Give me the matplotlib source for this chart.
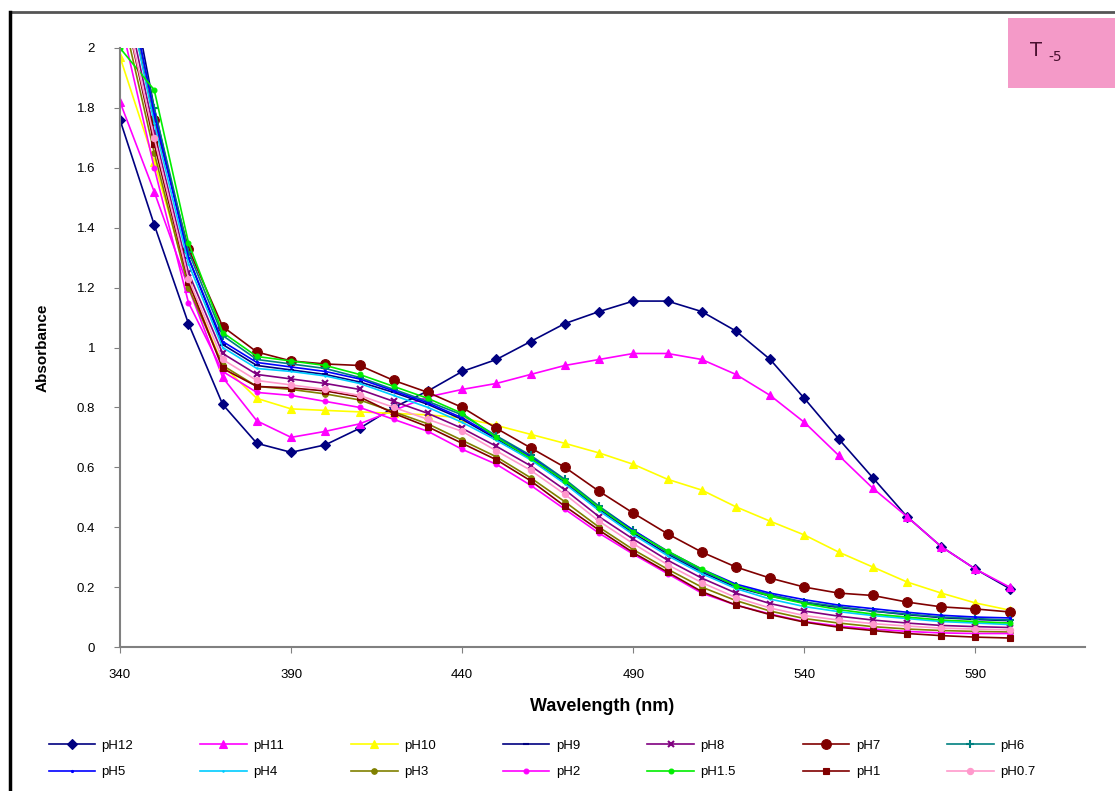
import matplotlib
matplotlib.use('Agg')
import matplotlib.pyplot as plt
from matplotlib.patches import Rectangle
from matplotlib.lines import Line2D
import numpy as np

plt.rcParams['font.family'] = ['Liberation Sans', 'DejaVu Sans']

# ===== Data =====
wavelength = list(range(340, 601, 10))

labels = ['pH12', 'pH11', 'pH10', 'pH9', 'pH8', 'pH7', 'pH6',
          'pH5', 'pH4', 'pH3', 'pH2', 'pH1.5', 'pH1', 'pH0.7']

ph12 = [1.76, 1.41, 1.08, 0.81, 0.68, 0.65, 0.675, 0.73, 0.80, 0.855, 0.92, 0.96, 1.02, 1.08,
        1.12, 1.155, 1.155, 1.12, 1.055, 0.96, 0.83, 0.695, 0.565, 0.435, 0.335, 0.26, 0.195]
ph11 = [1.82, 1.52, 1.20, 0.90, 0.755, 0.70, 0.72, 0.745, 0.79, 0.835, 0.86, 0.88, 0.91, 0.94,
        0.96, 0.98, 0.98, 0.96, 0.91, 0.84, 0.75, 0.64, 0.53, 0.435, 0.335, 0.26, 0.20]
ph10 = [1.97, 1.62, 1.22, 0.94, 0.83, 0.795, 0.79, 0.785, 0.78, 0.775, 0.765, 0.74, 0.71, 0.68,
        0.648, 0.61, 0.56, 0.524, 0.468, 0.42, 0.374, 0.317, 0.267, 0.217, 0.18, 0.147, 0.123]
ph9 = [2.40, 1.80, 1.30, 1.01, 0.94, 0.925, 0.91, 0.885, 0.85, 0.81, 0.76, 0.695, 0.63, 0.55,
       0.46, 0.38, 0.31, 0.25, 0.20, 0.17, 0.148, 0.132, 0.12, 0.108, 0.098, 0.092, 0.088]
ph8 = [2.25, 1.72, 1.25, 0.98, 0.91, 0.895, 0.88, 0.86, 0.82, 0.78, 0.73, 0.67, 0.605, 0.525,
       0.435, 0.36, 0.29, 0.23, 0.18, 0.145, 0.12, 0.103, 0.09, 0.08, 0.072, 0.068, 0.065]
ph7 = [2.30, 1.76, 1.33, 1.07, 0.985, 0.955, 0.945, 0.94, 0.89, 0.85, 0.80, 0.73, 0.665, 0.60,
       0.52, 0.447, 0.378, 0.317, 0.267, 0.23, 0.20, 0.18, 0.172, 0.15, 0.134, 0.127, 0.117]
ph6 = [2.30, 1.80, 1.32, 1.04, 0.96, 0.945, 0.93, 0.90, 0.86, 0.82, 0.775, 0.705, 0.64, 0.56,
       0.47, 0.39, 0.315, 0.255, 0.205, 0.175, 0.15, 0.135, 0.12, 0.11, 0.10, 0.095, 0.09]
ph5 = [2.35, 1.78, 1.30, 1.02, 0.95, 0.935, 0.92, 0.895, 0.855, 0.815, 0.765, 0.70, 0.635, 0.555,
       0.465, 0.39, 0.32, 0.26, 0.21, 0.18, 0.158, 0.14, 0.128, 0.116, 0.106, 0.10, 0.097]
ph4 = [2.30, 1.75, 1.28, 1.00, 0.93, 0.92, 0.905, 0.88, 0.84, 0.80, 0.75, 0.69, 0.625, 0.545,
       0.455, 0.375, 0.305, 0.245, 0.195, 0.16, 0.135, 0.118, 0.105, 0.095, 0.085, 0.08, 0.075]
ph3 = [2.15, 1.65, 1.20, 0.94, 0.87, 0.86, 0.845, 0.825, 0.785, 0.745, 0.69, 0.635, 0.565, 0.485,
       0.40, 0.325, 0.26, 0.20, 0.155, 0.12, 0.095, 0.08, 0.068, 0.06, 0.055, 0.052, 0.05]
ph2 = [2.10, 1.60, 1.15, 0.92, 0.85, 0.84, 0.82, 0.80, 0.76, 0.72, 0.66, 0.61, 0.54, 0.46,
       0.38, 0.31, 0.245, 0.18, 0.14, 0.11, 0.085, 0.07, 0.06, 0.052, 0.047, 0.045, 0.045]
ph1_5 = [2.00, 1.86, 1.35, 1.05, 0.97, 0.955, 0.94, 0.91, 0.87, 0.83, 0.78, 0.70, 0.63, 0.555,
         0.465, 0.385, 0.32, 0.26, 0.205, 0.17, 0.145, 0.125, 0.11, 0.10, 0.09, 0.085, 0.08]
ph1 = [2.20, 1.68, 1.22, 0.93, 0.87, 0.865, 0.855, 0.835, 0.78, 0.735, 0.68, 0.625, 0.555, 0.47,
       0.39, 0.315, 0.25, 0.185, 0.14, 0.108, 0.083, 0.066, 0.055, 0.045, 0.038, 0.033, 0.03]
ph0_7 = [2.20, 1.70, 1.23, 0.96, 0.89, 0.875, 0.86, 0.84, 0.80, 0.76, 0.72, 0.655, 0.59, 0.51,
         0.42, 0.345, 0.275, 0.215, 0.165, 0.13, 0.105, 0.09, 0.078, 0.07, 0.063, 0.06, 0.057]

series = [ph12, ph11, ph10, ph9, ph8, ph7, ph6, ph5, ph4, ph3, ph2, ph1_5, ph1, ph0_7]

colors = ['#000080', '#FF00FF', '#FFFF00', '#000080', '#800080', '#800000', '#008080',
          '#0000FF', '#00CCFF', '#808000', '#FF00FF', '#00EE00', '#800000', '#FF99CC']
markers = ['D', '^', '^', '_', 'x', 'o', '+', '.', '.', 'o', 'o', 'o', 's', 'o']
msizes = [5, 6, 6, 5, 4, 7, 6, 3, 2, 4, 3.5, 3.5, 4, 4.5]

# ===== Plot =====
fig = plt.figure(figsize=(11.15, 7.91), dpi=100)
ax = fig.add_axes([120 / 1115, 144 / 791, 965 / 1115, 599 / 791])

handles = []
for y, lab, c, m, s in zip(series, labels, colors, markers, msizes):
    h, = ax.plot(wavelength, y, color=c, marker=m, markersize=s, linewidth=1.2,
                 markeredgewidth=1.5 if m in ('x', '+', '_') else 0.8, label=lab)
    handles.append(h)

ax.set_xlim(340, 622)
ax.set_ylim(0, 2)
ax.set_xticks([340, 390, 440, 490, 540, 590])
ax.set_yticks(np.arange(0, 2.01, 0.2))
ax.set_yticklabels(['0', '0.2', '0.4', '0.6', '0.8', '1', '1.2', '1.4', '1.6', '1.8', '2'])
ax.tick_params(labelsize=9.5, length=4, color='#808080')
ax.tick_params(axis='x', pad=12)
ax.tick_params(axis='y', pad=14)
for side in ['top', 'right']:
    ax.spines[side].set_visible(False)
for side in ['left', 'bottom']:
    ax.spines[side].set_color('#808080')
    ax.spines[side].set_linewidth(1.5)
ax.set_xlabel('Wavelength (nm)', fontsize=13, fontweight='bold', labelpad=12)
ax.set_ylabel('Absorbance', fontsize=11, fontweight='bold', labelpad=19)

# chart frame: dark top edge, black left edge
fig.add_artist(Line2D([10 / 1115, 1], [(791 - 12) / 791] * 2, color='#555555', linewidth=2))
fig.add_artist(Line2D([10 / 1115] * 2, [0, (791 - 12) / 791], color='black', linewidth=2.5))

# sample tag
fig.patches.append(Rectangle((1008 / 1115, (791 - 88) / 791), 0.2, 70 / 791,
                             transform=fig.transFigure, facecolor='#F49AC8',
                             edgecolor='none'))
fig.text(1036 / 1115, (791 - 50) / 791, 'T', fontsize=14, ha='center', va='center',
         color='#4A1030', family=['DejaVu Sans'])
fig.text(1055 / 1115, (791 - 57) / 791, '-5', fontsize=10, ha='center', va='center',
         color='#4A1030', family=['DejaVu Sans'])

# legend filled row by row: 7 columns, 2 rows
order = []
for col in range(7):
    order += [col, col + 7]
fig.legend([handles[i] for i in order], [labels[i] for i in order],
           loc='center', bbox_to_anchor=(542 / 1115, (791 - 759) / 791), ncol=7,
           frameon=False, fontsize=9.5, handlelength=3.5, columnspacing=5.1,
           handletextpad=0.5, labelspacing=1.1)

plt.savefig('out.png', dpi=100)
plt.close()
